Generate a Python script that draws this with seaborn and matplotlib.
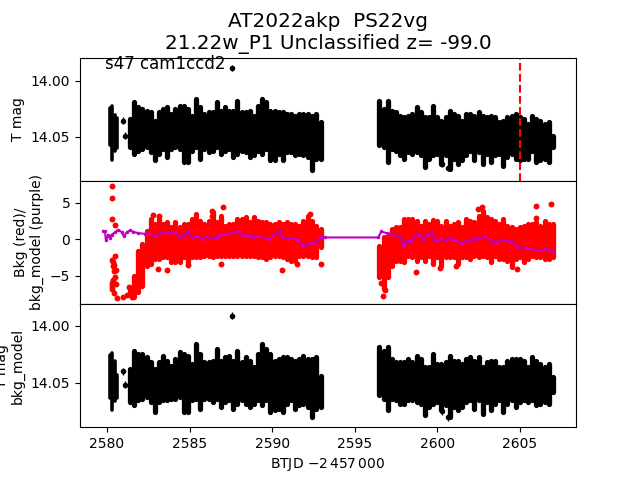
import matplotlib
matplotlib.use('Agg')
import matplotlib.pyplot as plt
import seaborn as sns

# time grid of the dense stretches (0.25 d columns)
t_left = [2581.40, 2581.65, 2581.90, 2582.15, 2582.40, 2582.65, 2582.90, 2583.15, 2583.40, 2583.65,
          2583.90, 2584.15, 2584.40, 2584.65, 2584.90, 2585.15, 2585.40, 2585.65, 2585.90, 2586.15,
          2586.40, 2586.65, 2586.90, 2587.15, 2587.40, 2587.65, 2587.90, 2588.15, 2588.40, 2588.65,
          2588.90, 2589.15, 2589.40, 2589.65, 2589.90, 2590.15, 2590.40, 2590.65, 2590.90, 2591.15,
          2591.40, 2591.65, 2591.90, 2592.15, 2592.40, 2592.65, 2592.95]
t_right = [2596.50, 2596.75, 2597.00, 2597.25, 2597.50, 2597.75, 2598.00, 2598.25, 2598.50, 2598.75,
           2599.00, 2599.25, 2599.50, 2599.75, 2600.00, 2600.25, 2600.50, 2600.75, 2601.00, 2601.25,
           2601.50, 2601.75, 2602.00, 2602.25, 2602.50, 2602.75, 2603.00, 2603.25, 2603.50, 2603.75,
           2604.00, 2604.25, 2604.50, 2604.75, 2605.00, 2605.25, 2605.50, 2605.75, 2606.00, 2606.25,
           2606.50, 2606.75, 2607.00]
t_early = [2580.18, 2580.32, 2580.48, 2580.58]

# T mag, upper and lower edge of the black band
t_hi_early = [14.0229, 14.0214, 14.0289, 14.0318]
t_lo_early = [14.0586, 14.0720, 14.0646, 14.0616]
t_hi_left = [14.0318, 14.0170, 14.0214, 14.0229, 14.0244, 14.0259, 14.0333, 14.0259, 14.0229, 14.0214,
             14.0274, 14.0229, 14.0199, 14.0205, 14.0229, 14.0289, 14.0140, 14.0214, 14.0274, 14.0259,
             14.0259, 14.0170, 14.0244, 14.0214, 14.0244, 14.0244, 14.0155, 14.0259, 14.0259, 14.0244,
             14.0289, 14.0199, 14.0140, 14.0170, 14.0244, 14.0244, 14.0259, 14.0259, 14.0274, 14.0274,
             14.0289, 14.0274, 14.0274, 14.0274, 14.0289, 14.0274, 14.0348]
t_lo_left = [14.0616, 14.0676, 14.0646, 14.0631, 14.0616, 14.0661, 14.0735, 14.0676, 14.0631, 14.0705,
             14.0631, 14.0616, 14.0631, 14.0750, 14.0750, 14.0646, 14.0616, 14.0720, 14.0631, 14.0661,
             14.0646, 14.0616, 14.0676, 14.0646, 14.0631, 14.0705, 14.0676, 14.0646, 14.0661, 14.0705,
             14.0690, 14.0646, 14.0676, 14.0631, 14.0735, 14.0735, 14.0676, 14.0735, 14.0661, 14.0661,
             14.0690, 14.0676, 14.0690, 14.0705, 14.0824, 14.0720, 14.0720]
t_hi_right = [14.0155, 14.0229, 14.0155, 14.0244, 14.0259, 14.0289, 14.0304, 14.0289, 14.0274, 14.0214,
              14.0259, 14.0304, 14.0304, 14.0199, 14.0304, 14.0333, 14.0304, 14.0244, 14.0274, 14.0289,
              14.0333, 14.0274, 14.0274, 14.0289, 14.0259, 14.0289, 14.0304, 14.0289, 14.0304, 14.0348,
              14.0333, 14.0304, 14.0289, 14.0274, 14.0304, 14.0318, 14.0363, 14.0289, 14.0318, 14.0333,
              14.0363, 14.0348, 14.0467]
t_lo_right = [14.0601, 14.0616, 14.0750, 14.0631, 14.0646, 14.0690, 14.0720, 14.0661, 14.0676, 14.0661,
              14.0690, 14.0795, 14.0720, 14.0690, 14.0676, 14.0765, 14.0690, 14.0810, 14.0720, 14.0765,
              14.0735, 14.0690, 14.0646, 14.0735, 14.0661, 14.0765, 14.0676, 14.0750, 14.0690, 14.0676,
              14.0780, 14.0705, 14.0676, 14.0720, 14.0735, 14.0720, 14.0720, 14.0646, 14.0750, 14.0735,
              14.0720, 14.0750, 14.0616]
t_pts_x = [2587.59, 2580.99, 2581.09, 2600.30, 2600.66]
t_pts_y = [13.9887, 14.0357, 14.0491, 14.0741, 14.0780]

# background, upper and lower edge of the red band
bk_hi_left = [-6.46, -4.64, -1.21, -0.30, 1.53, 3.13, 2.44, 3.13, 2.44, 2.67,
              1.99, 2.67, 1.99, 2.44, 2.44, 3.13, 3.81, 2.90, 2.44, 2.90,
              4.04, 2.67, 3.58, 2.21, 2.44, 2.44, 3.13, 3.13, 3.36, 2.67,
              3.36, 2.90, 2.67, 2.67, 2.44, 2.44, 2.67, 2.44, 2.67, 2.44,
              2.44, 2.21, 2.90, 3.58, 2.90, 2.21, 1.76]
bk_lo_left = [-7.83, -8.29, -7.60, -6.69, -3.95, -3.72, -3.04, -3.04, -2.81, -2.81,
              -3.49, -3.49, -3.49, -2.81, -3.72, -2.81, -2.81, -2.81, -2.58, -2.58,
              -2.81, -2.58, -2.58, -2.58, -2.58, -2.58, -2.58, -2.58, -2.58, -2.58,
              -2.58, -2.81, -2.81, -3.04, -2.81, -2.58, -2.58, -2.81, -3.04, -3.27,
              -3.27, -2.58, -2.58, -2.58, -2.81, -2.81, -1.44]
bk_hi_right = [-0.53, 0.62, 0.84, 1.76, 1.99, 1.99, 3.13, 3.13, 3.13, 2.90,
               2.21, 2.90, 2.44, 3.04, 2.90, 2.21, 2.90, 2.21, 2.44, 2.67,
               1.99, 3.13, 2.90, 2.67, 3.58, 4.27, 3.36, 3.13, 2.90, 2.44,
               3.13, 2.21, 1.99, 1.76, 1.99, 2.21, 2.44, 2.44, 2.67, 2.21,
               2.90, 2.44, 2.44]
bk_lo_right = [-5.55, -7.15, -5.55, -3.95, -3.27, -3.27, -3.49, -2.58, -2.81, -3.27,
               -2.81, -3.27, -2.58, -3.72, -2.81, -3.95, -2.81, -2.81, -2.81, -3.72,
               -2.81, -2.81, -3.04, -2.58, -2.81, -2.58, -2.81, -3.49, -2.58, -3.04,
               -3.04, -3.27, -4.18, -3.04, -2.81, -3.49, -3.04, -2.58, -2.81, -2.81,
               -3.04, -3.04, -2.81]
bk_pts_x = [2580.28, 2580.28, 2580.28, 2580.48, 2580.48, 2580.32, 2580.38, 2580.52, 2580.48, 2580.28,
            2580.52, 2580.28, 2580.44, 2580.59, 2580.99, 2581.19, 2581.35, 2581.49, 2580.38, 2580.44,
            2580.38, 2580.44, 2580.30,
            2587.04, 2586.34, 2586.34, 2582.80, 2583.15, 2592.29, 2586.92, 2583.11, 2583.65, 2590.57,
            2592.99, 2584.92, 2591.52,
            2596.72, 2596.82, 2596.62, 2598.74, 2601.16, 2600.15, 2606.00, 2606.90, 2606.00, 2602.68,
            2602.47, 2604.80]
bk_pts_y = [7.33, 5.64, 2.76, 1.99, -2.35, -2.81, -3.72, -4.18, -5.09, -5.91,
            -6.14, -6.83, -7.38, -8.06, -7.83, -7.60, -6.55, -7.92, -3.04, -4.40,
            -5.55, -3.50, -6.40,
            4.41, 3.81, 3.22, 3.36, 3.22, 3.49, -3.40, -4.09, -4.22, -4.22,
            -3.40, -3.54, -3.40,
            -7.69, -6.92, -6.00, -4.41, -3.63, -3.95, 4.59, 4.86, 2.90, 4.41,
            4.13, -4.04]

# purple background model
model_t = [2579.78, 2579.88, 2579.94, 2580.08, 2580.18, 2580.28, 2580.48, 2580.69, 2580.89, 2581.03,
           2581.19, 2581.39, 2581.60, 2581.90, 2582.30, 2582.60, 2582.91, 2583.21, 2583.51, 2583.81,
           2584.12, 2584.42, 2584.62, 2584.92, 2585.13, 2585.43, 2585.73, 2586.03, 2586.34, 2586.64,
           2586.84, 2587.25, 2587.65, 2587.95, 2588.25, 2588.56, 2588.86, 2589.26, 2589.87, 2590.17,
           2590.47, 2590.68, 2591.08, 2591.48, 2591.89, 2592.19, 2592.49, 2592.79, 2592.99, 2593.20,
           2596.42, 2596.62, 2596.93, 2597.23, 2597.53, 2597.73, 2597.93, 2598.14, 2598.44, 2598.64,
           2598.90, 2599.15, 2599.39, 2599.65, 2599.89, 2600.15, 2600.46, 2600.86, 2601.16, 2601.47,
           2601.77, 2602.17, 2602.47, 2602.88, 2603.18, 2603.48, 2603.89, 2604.49, 2604.90, 2605.40,
           2605.80, 2606.21, 2606.61, 2607.02]
model_v = [1.16, 1.07, -0.16, 0.62, 0.16, 0.62, 0.94, 1.30, 0.98, 0.39,
           0.94, 1.21, 1.03, 0.84, 0.75, 0.94, 0.39, 0.75, 0.94, 0.84,
           0.94, 0.30, 0.39, 1.07, 0.30, 0.39, 0.02, 0.39, 0.16, 0.25,
           0.62, 0.71, 0.94, 1.16, 0.39, 0.62, 0.30, 0.39, 0.02, 0.75,
           1.07, 0.16, 0.16, 0.02, -0.89, -0.66, -0.53, -0.07, 0.30, 0.25,
           0.25, 1.07, 0.84, 0.75, 0.39, 0.30, -0.75, -0.30, -0.30, 0.39,
           0.75, -0.07, 0.62, 0.94, -0.21, 0.02, -0.07, 0.07, -0.16, -0.62,
           -0.30, 0.02, 0.02, 0.48, -0.07, -0.53, -0.07, -0.30, -1.12, -1.21,
           -1.44, -1.53, -1.30, -1.67]

# corrected mag, upper and lower edge of the black band
p_hi_early = [14.0237, 14.0222, 14.0295, 14.0412]
p_lo_early = [14.0646, 14.0749, 14.0675, 14.0646]
p_hi_left = [14.0354, 14.0193, 14.0222, 14.0222, 14.0251, 14.0295, 14.0354, 14.0295, 14.0237, 14.0281,
             14.0325, 14.0266, 14.0208, 14.0222, 14.0237, 14.0310, 14.0135, 14.0222, 14.0295, 14.0295,
             14.0281, 14.0178, 14.0281, 14.0251, 14.0237, 14.0281, 14.0193, 14.0295, 14.0251, 14.0281,
             14.0339, 14.0222, 14.0135, 14.0178, 14.0222, 14.0281, 14.0266, 14.0251, 14.0251, 14.0266,
             14.0281, 14.0266, 14.0237, 14.0266, 14.0266, 14.0251, 14.0412]
p_lo_left = [14.0690, 14.0719, 14.0675, 14.0661, 14.0646, 14.0690, 14.0778, 14.0690, 14.0675, 14.0675,
             14.0661, 14.0661, 14.0646, 14.0778, 14.0778, 14.0675, 14.0661, 14.0749, 14.0661, 14.0661,
             14.0690, 14.0661, 14.0734, 14.0690, 14.0675, 14.0749, 14.0705, 14.0675, 14.0705, 14.0734,
             14.0705, 14.0675, 14.0719, 14.0675, 14.0778, 14.0763, 14.0749, 14.0778, 14.0705, 14.0675,
             14.0749, 14.0719, 14.0705, 14.0734, 14.0822, 14.0749, 14.0734]
p_hi_right = [14.0164, 14.0193, 14.0164, 14.0266, 14.0295, 14.0295, 14.0295, 14.0266, 14.0295, 14.0237,
              14.0266, 14.0339, 14.0339, 14.0222, 14.0310, 14.0310, 14.0295, 14.0237, 14.0281, 14.0281,
              14.0310, 14.0266, 14.0251, 14.0281, 14.0251, 14.0339, 14.0295, 14.0281, 14.0281, 14.0339,
              14.0339, 14.0281, 14.0266, 14.0266, 14.0266, 14.0281, 14.0339, 14.0251, 14.0281, 14.0310,
              14.0339, 14.0310, 14.0427]
p_lo_right = [14.0632, 14.0661, 14.0763, 14.0661, 14.0675, 14.0705, 14.0705, 14.0675, 14.0675, 14.0690,
              14.0705, 14.0807, 14.0734, 14.0705, 14.0690, 14.0763, 14.0719, 14.0822, 14.0734, 14.0763,
              14.0734, 14.0690, 14.0675, 14.0749, 14.0675, 14.0792, 14.0690, 14.0763, 14.0705, 14.0675,
              14.0778, 14.0705, 14.0675, 14.0734, 14.0690, 14.0675, 14.0690, 14.0675, 14.0719, 14.0705,
              14.0690, 14.0705, 14.0602]
p_pts_x = [2587.59, 2580.99, 2581.09, 2600.30, 2600.66]
p_pts_y = [13.9909, 14.0398, 14.0515, 14.0749, 14.0801]

x_ticks = [2580, 2585, 2590, 2595, 2600, 2605]


def band(ax, x, a, b, inset, color, lw=3.8):
    # the round caps stick out past the stem ends, so pull the ends in by that much
    ax.vlines(x, [v + inset for v in a], [v - inset for v in b], color=color, lw=lw, capstyle='round')


fig, axes = plt.subplots(3, 1, sharex=True, figsize=(6.4, 4.8), dpi=100)
fig.subplots_adjust(hspace=0)
ax1, ax2, ax3 = axes

# top panel
band(ax1, t_early, t_hi_early, t_lo_early, 0.0016, 'k', lw=2.6)
band(ax1, t_left, t_hi_left, t_lo_left, 0.0023, 'k')
band(ax1, t_right, t_hi_right, t_lo_right, 0.0023, 'k')
sns.scatterplot(x=t_pts_x, y=t_pts_y, color='k', s=16, linewidth=0, ax=ax1)
ax1.errorbar(t_pts_x, t_pts_y, yerr=0.003, fmt='none', ecolor='k', elinewidth=1)
ax1.axvline(2605, color='r', ls='--', lw=1.5)
ax1.set_ylim(14.0893, 13.9795)
ax1.set_yticks([14.00, 14.05], ['14.00', '14.05'])
ax1.set_ylabel('T mag')
ax1.text(2579.9, 13.990, 's47 cam1ccd2', fontsize=12)
ax1.set_title('AT2022akp  PS22vg\n21.22w_P1 Unclassified z= -99.0', fontsize=14.4)

# middle panel
band(ax2, t_left, bk_lo_left, bk_hi_left, 0.36, 'r')
band(ax2, t_right, bk_lo_right, bk_hi_right, 0.36, 'r')
sns.scatterplot(x=bk_pts_x, y=bk_pts_y, color='r', s=18, linewidth=0, ax=ax2)
sns.lineplot(x=model_t, y=model_v, color='m', lw=1.5, marker='o', markersize=2.5,
             markeredgewidth=0, sort=False, estimator=None, ax=ax2)
ax2.set_ylim(-8.85, 8.0)
ax2.set_yticks([-5, 0, 5])
ax2.set_ylabel('Bkg (red)/\nbkg_model (purple)')

# bottom panel
band(ax3, t_early, p_hi_early, p_lo_early, 0.0016, 'k', lw=2.6)
band(ax3, t_left, p_hi_left, p_lo_left, 0.0023, 'k')
band(ax3, t_right, p_hi_right, p_lo_right, 0.0023, 'k')
sns.scatterplot(x=p_pts_x, y=p_pts_y, color='k', s=16, linewidth=0, ax=ax3)
ax3.errorbar(p_pts_x, p_pts_y, yerr=0.003, fmt='none', ecolor='k', elinewidth=1)
ax3.set_ylim(14.0888, 13.9807)
ax3.set_yticks([14.00, 14.05], ['14.00', '14.05'])
ax3.set_ylabel('T mag\nbkg_model')
ax3.set_xlim(2578.37, 2608.4)
ax3.set_xticks(x_ticks)
ax3.set_xlabel('BTJD $-2\\,457\\,000$')

fig.savefig('out.png', dpi=100)
